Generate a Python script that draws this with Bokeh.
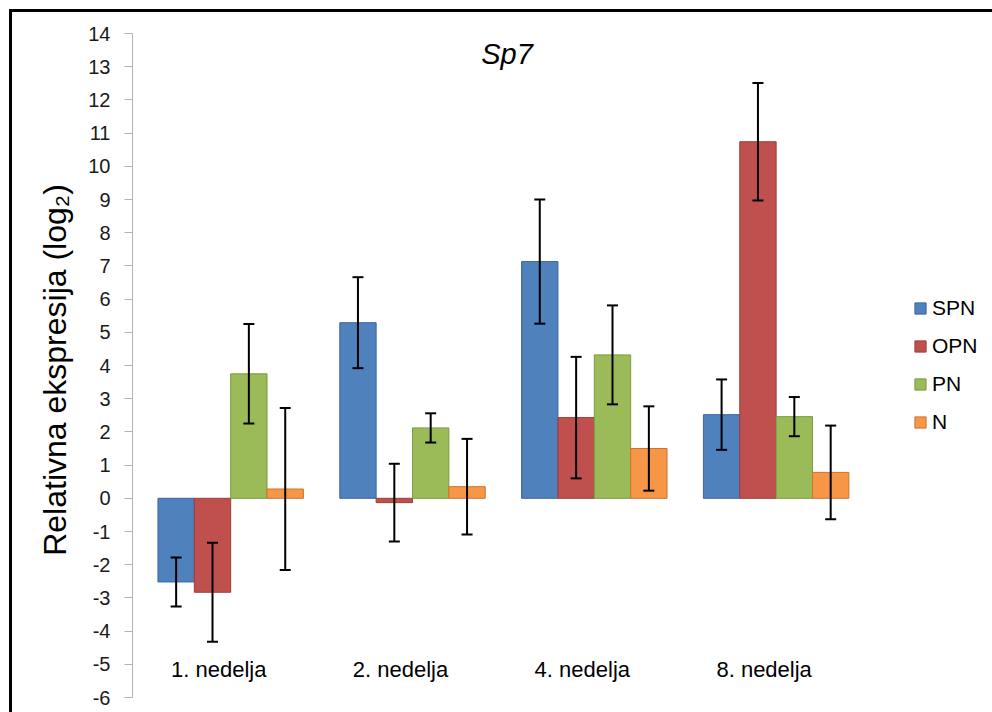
from bokeh.plotting import figure
from bokeh.models import (Range1d, FixedTicker, Whisker, ColumnDataSource, Legend,
                          LegendItem, Label, TeeHead)
from bokeh.core.properties import value
from bokeh.embed import file_html
from bokeh.resources import INLINE
import numpy as np

# ---------------- data ----------------
categories = ["1. nedelja", "2. nedelja", "4. nedelja", "8. nedelja"]
series_names = ["SPN", "OPN", "PN", "N"]
spn = [-2.52, 5.29, 7.13, 2.52]
spn_err = [0.74, 1.37, 1.87, 1.06]
opn = [-2.83, -0.13, 2.43, 10.74]
opn_err = [1.49, 1.17, 1.83, 1.77]
pn = [3.75, 2.12, 4.32, 2.46]
pn_err = [1.50, 0.44, 1.49, 0.59]
n = [0.28, 0.35, 1.50, 0.78]
n_err = [2.44, 1.44, 1.27, 1.41]
y_ticks = list(range(-6, 15))

series_values = [spn, opn, pn, n]
series_errors = [spn_err, opn_err, pn_err, n_err]
colors = ["#4F81BD", "#C0504D", "#9BBB59", "#F79646"]
line_colors = ["#3C679C", "#9C3D3A", "#7C9A42", "#C9742F"]
FONT = "Liberation Sans"

p = figure(width=992, height=712,
           x_range=Range1d(-0.04, 4.69), y_range=Range1d(-6, 14),
           x_axis_type=None, output_backend="svg", toolbar_location=None,
           min_border_left=132, min_border_right=0,
           min_border_top=33, min_border_bottom=15)
# frame line of the original picture (left and top edges only)
p.styles = {"box-shadow": "inset 9px 9px 0 0 white, inset 12px 12px 0 0 black"}
p.grid.visible = False
p.outline_line_color = None
p.background_fill_color = "white"
p.border_fill_color = None

bar_w = 0.2
offsets = [-0.3, -0.1, 0.1, 0.3]
base = np.arange(len(categories)) + 0.5
items = []
for name, vals, errs, col, lc, off in zip(series_names, series_values, series_errors,
                                          colors, line_colors, offsets):
    xs = base + off
    vals_a = np.array(vals)
    src = ColumnDataSource(dict(x=xs, top=vals_a))
    r = p.vbar(x="x", top="top", bottom=0, width=bar_w, source=src,
               fill_color=col, line_color=lc, line_width=1)
    items.append(LegendItem(label=name, renderers=[r]))

for name, vals, errs, off in zip(series_names, series_values, series_errors, offsets):
    xs = base + off
    vals_a = np.array(vals)
    errs_a = np.array(errs)
    src = ColumnDataSource(dict(x=xs, upper=vals_a + errs_a, lower=vals_a - errs_a))
    w = Whisker(base="x", upper="upper", lower="lower", source=src, dimension="height",
                line_color="black", line_width=2, level="overlay",
                upper_head=TeeHead(size=11, line_color="black", line_width=2),
                lower_head=TeeHead(size=11, line_color="black", line_width=2))
    p.add_layout(w)

# category labels (drawn inside the plot area, as in the original)
p.text(x=base, y=[-5.15] * len(categories), text=categories, x_offset=-12,
       text_align="center", text_baseline="middle",
       text_font=value(FONT), text_font_size="22px", text_color="black")

# title
p.add_layout(Label(x=2.02, y=13.37, text="Sp7", text_align="center",
                   text_baseline="alphabetic", text_font=FONT,
                   text_font_size="29px", text_font_style="italic", text_color="black"))

ax = p.yaxis[0]
ax.ticker = FixedTicker(ticks=y_ticks)
ax.major_label_overrides = {t: str(t) for t in y_ticks}
ax.axis_label = "Relativna ekspresija  (log\u2082)"
ax.axis_label_text_font = FONT
ax.axis_label_text_font_size = "32px"
ax.axis_label_text_font_style = "normal"
ax.axis_label_text_color = "black"
ax.axis_label_standoff = 12
ax.major_label_text_font = FONT
ax.major_label_text_font_size = "20px"
ax.major_label_text_color = "#1a1a1a"
ax.major_label_standoff = 14
ax.major_tick_out = 8
ax.major_tick_in = 0
ax.minor_tick_line_color = None
ax.axis_line_color = "#b3b3b3"
ax.major_tick_line_color = "#b3b3b3"

legend = Legend(items=items, location=(781, 263), orientation="vertical",
                label_text_font=FONT, label_text_font_size="21px",
                label_text_color="black",
                glyph_width=14, glyph_height=14, label_height=24,
                label_standoff=5, spacing=14, padding=0, margin=0,
                border_line_color=None, background_fill_alpha=0)
p.add_layout(legend, "center")

open("out.html", "w").write(file_html(p, INLINE))
